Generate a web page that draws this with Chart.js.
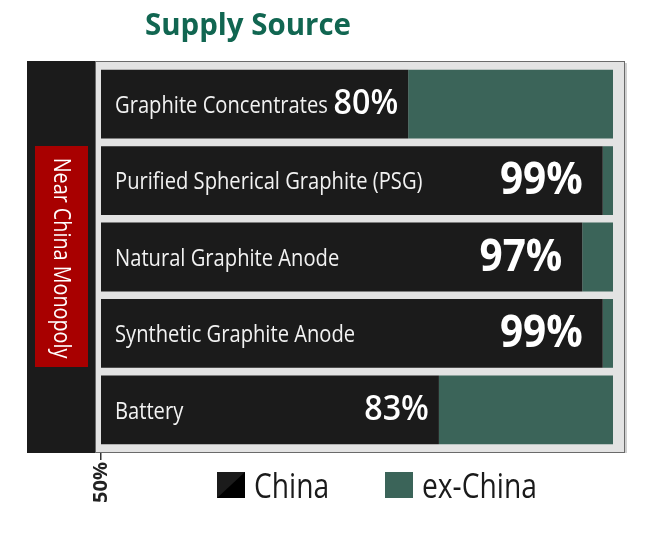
<!DOCTYPE html>
<html><head><meta charset="utf-8">
<script src="https://cdn.jsdelivr.net/npm/chart.js@4"></script>
<style>html,body{margin:0;padding:0;background:#fff;overflow:hidden}</style>
</head><body>
<canvas id="c" width="649" height="534" style="display:block;width:649px;height:534px"></canvas>
<script>
// ---- data ----
const categories = ["Graphite Concentrates", "Purified Spherical Graphite (PSG)", "Natural Graphite Anode", "Synthetic Graphite Anode", "Battery"];
const chinaShare = [80, 99, 97, 99, 83];
const exChinaShare = [20, 1, 3, 1, 17];
const seriesNames = ["China", "ex-China"];
const axisMin = 50;
const axisMax = 100;
const titleText = "Supply Source";
const sideLabel = "Near China Monopoly";

// ---- styles ----
const BLACK = '#1b1b1b';
const GREEN = '#3b6459';
const FONT = '"Open Sans", "Noto Sans", sans-serif';

function txt(ctx, s, x, y, font, color, sx, align, baseline) {
  ctx.save();
  ctx.translate(x, y);
  ctx.scale(sx, 1);
  ctx.font = font;
  ctx.fillStyle = color;
  ctx.textAlign = align || 'left';
  ctx.textBaseline = baseline || 'middle';
  ctx.fillText(s, 0, 0);
  ctx.restore();
}

const decor = {
  id: 'decor',
  beforeDatasetsDraw(chart) {
    const ctx = chart.ctx;
    const ca = chart.chartArea;
    ctx.save();
    // left dark panel
    ctx.fillStyle = BLACK;
    ctx.fillRect(27, ca.top - 5, 70, ca.bottom - ca.top + 10);
    // gray frame
    ctx.fillStyle = '#e3e3e3';
    ctx.fillRect(95, ca.top - 5, 530, ca.bottom - ca.top + 10);
    ctx.strokeStyle = '#6a6a6a';
    ctx.lineWidth = 1;
    ctx.strokeRect(95.5, ca.top - 4.5, 529, ca.bottom - ca.top + 9);
    ctx.fillStyle = '#d0d0d0';
    ctx.fillRect(625, ca.top - 3, 2, ca.bottom - ca.top + 8);
    // red box
    ctx.fillStyle = '#a80000';
    ctx.fillRect(35, 146, 53, 221);
    ctx.save();
    ctx.translate(61, 258);
    ctx.rotate(Math.PI / 2);
    txt(ctx, sideLabel, 0, 0, '500 23px ' + FONT, '#ffffff', 0.86, 'center', 'middle');
    ctx.restore();
    ctx.restore();
  },
  afterDatasetsDraw(chart) {
    const ctx = chart.ctx;
    const xs = chart.scales.x, ys = chart.scales.y;
    categories.forEach((c, i) => {
      const yc = ys.getPixelForValue(i);
      txt(ctx, c, 115, yc + 2, '24px ' + FONT, '#f2f2f2', 0.84, 'left', 'middle');
      const v = chinaShare[i];
      const xe = xs.getPixelForValue(v);
      if (v >= 90) {
        txt(ctx, v + '%', xe - 20, yc + 1, 'bold 45px ' + FONT, '#ffffff', 0.9, 'right', 'middle');
      } else {
        txt(ctx, v + '%', xe - 10, yc, '600 35px ' + FONT, '#ffffff', 0.92, 'right', 'middle');
      }
    });
  },
  afterDraw(chart) {
    const ctx = chart.ctx;
    // title
    txt(ctx, titleText, 145, 35, 'bold 31px ' + FONT, '#116651', 0.95, 'left', 'alphabetic');
    // legend
    const sw = [[217, BLACK], [385, GREEN]];
    chart.data.datasets.forEach((ds, k) => {
      const x = sw[k][0];
      ctx.fillStyle = ds.backgroundColor;
      ctx.fillRect(x, 472, 28, 26);
      if (k === 0) {
        ctx.fillStyle = '#000';
        ctx.beginPath();
        ctx.moveTo(x, 498); ctx.lineTo(x + 28, 472); ctx.lineTo(x + 28, 498); ctx.closePath();
        ctx.fill();
      }
      txt(ctx, ds.label, x + 37, 498, '34px ' + FONT, '#1a1a1a', 0.83, 'left', 'alphabetic');
    });
  }
};

new Chart(document.getElementById('c'), {
  type: 'bar',
  data: {
    labels: categories,
    datasets: [
      { label: seriesNames[0], data: chinaShare, backgroundColor: BLACK, barPercentage: 1, categoryPercentage: 0.9 },
      { label: seriesNames[1], data: exChinaShare, backgroundColor: GREEN, barPercentage: 1, categoryPercentage: 0.9 }
    ]
  },
  options: {
    indexAxis: 'y',
    responsive: false,
    animation: false,
    devicePixelRatio: 1,
    layout: { padding: { left: 101, right: 36, top: 66, bottom: 0 } },
    plugins: { legend: { display: false }, tooltip: { enabled: false }, title: { display: false } },
    scales: {
      x: {
        type: 'linear', stacked: true, min: axisMin, max: axisMax,
        border: { display: false },
        grid: {
          drawOnChartArea: false, drawTicks: true, tickLength: 12, lineWidth: 1.5,
          color: (c) => (c.tick && c.tick.value === axisMin) ? '#333' : 'rgba(0,0,0,0)'
        },
        ticks: {
          stepSize: 50, minRotation: 90, maxRotation: 90, padding: 2, color: '#222',
          font: { family: 'Open Sans', weight: 'bold', size: 20 },
          callback: (v) => v === axisMin ? v + '%' : ''
        },
        afterFit: (s) => { s.height = 86; }
      },
      y: { stacked: true, display: false }
    }
  },
  plugins: [decor]
});
</script>
</body></html>
